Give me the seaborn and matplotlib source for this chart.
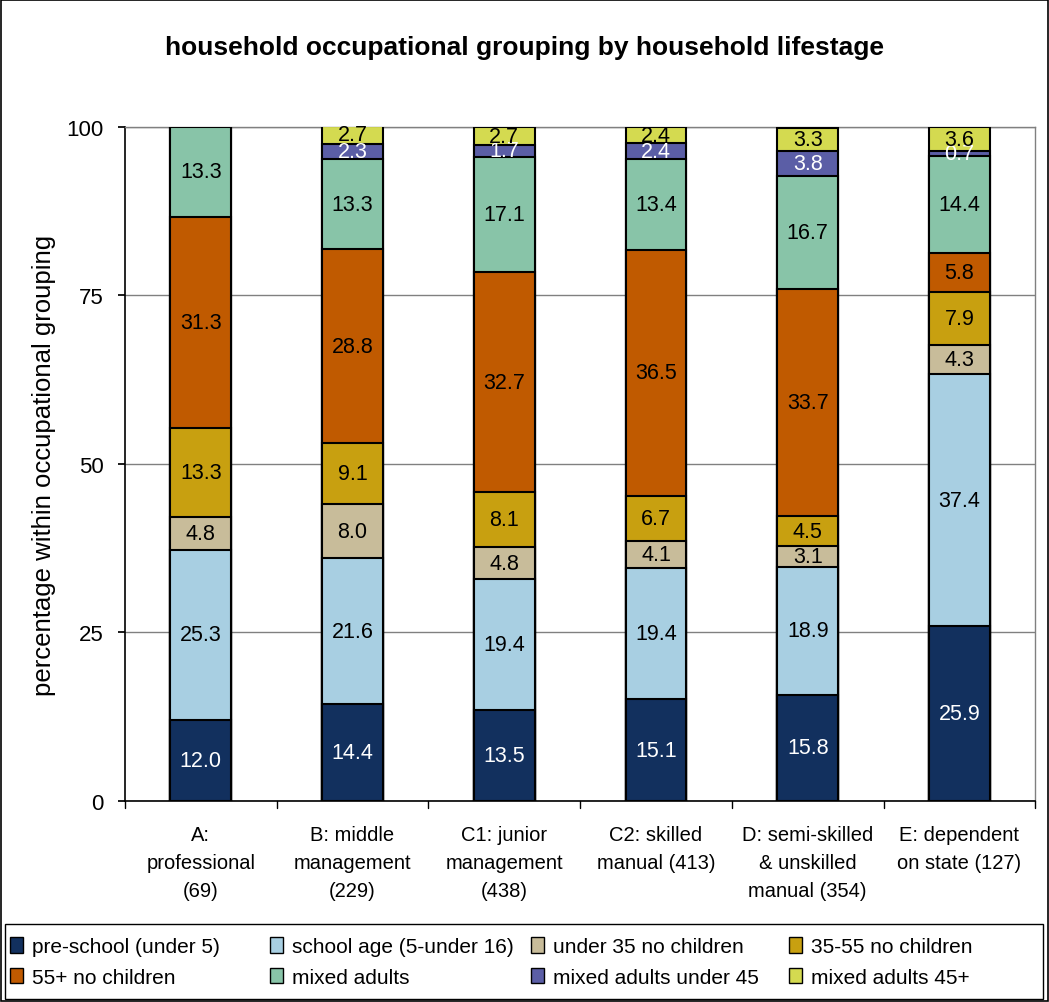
import matplotlib
matplotlib.use("Agg")
import matplotlib.pyplot as plt
import seaborn as sns
import numpy as np
import pandas as pd
from matplotlib.patches import Rectangle, Patch

categories = ["A:\nprofessional\n(69)", "B: middle\nmanagement\n(229)", "C1: junior\nmanagement\n(438)",
              "C2: skilled\nmanual (413)", "D: semi-skilled\n& unskilled\nmanual (354)", "E: dependent\non state (127)"]
series_names = ["pre-school (under 5)", "school age (5-under 16)", "under 35 no children", "35-55 no children",
                "55+ no children", "mixed adults", "mixed adults under 45", "mixed adults 45+"]
pre_school = [12.0, 14.4, 13.5, 15.1, 15.8, 25.9]
school_age = [25.3, 21.6, 19.4, 19.4, 18.9, 37.4]
under35 = [4.8, 8.0, 4.8, 4.1, 3.1, 4.3]
mid_no_children = [13.3, 9.1, 8.1, 6.7, 4.5, 7.9]
over55 = [31.3, 28.8, 32.7, 36.5, 33.7, 5.8]
mixed = [13.3, 13.3, 17.1, 13.4, 16.7, 14.4]
mixed_u45 = [0.0, 2.3, 1.7, 2.4, 3.8, 0.7]
mixed_45p = [0.0, 2.7, 2.7, 2.4, 3.3, 3.6]
yticks = [0, 25, 50, 75, 100]

series = [pre_school, school_age, under35, mid_no_children, over55, mixed, mixed_u45, mixed_45p]
colors = ["#12305E", "#A8CFE2", "#C8BC9A", "#C8A010", "#C05A00", "#88C4A8", "#5B5EA6", "#D4DA50"]
text_colors = ["white", "black", "black", "black", "black", "black", "white", "black"]

sns.set_theme(style="white")
plt.rcParams['font.family'] = ['Liberation Sans', 'DejaVu Sans']
plt.rcParams['text.color'] = 'black'
plt.rcParams['xtick.color'] = 'black'
plt.rcParams['ytick.color'] = 'black'
plt.rcParams['axes.labelcolor'] = 'black'

fig = plt.figure(figsize=(10.49, 10.03), dpi=100)
ax = fig.add_axes([0.119, 0.2004, 0.868, 0.672])

vals = np.array(series)
cum = np.cumsum(vals, axis=0)

for i in range(len(series) - 1, -1, -1):
    df = pd.DataFrame({"cat": categories, "val": cum[i]})
    sns.barplot(data=df, x="cat", y="val", order=categories, color=colors[i], saturation=1,
                width=0.4, edgecolor="black", linewidth=1.5, ax=ax, zorder=3)

for i in range(len(series)):
    for j in range(len(categories)):
        v = vals[i, j]
        if v <= 0:
            continue
        mid = cum[i, j] - v / 2
        ax.text(j, mid, f"{v:.1f}", ha="center", va="center", fontsize=15.5,
                color=text_colors[i], zorder=5)

ax.set_ylim(0, 100)
ax.set_xlim(-0.5, len(categories) - 0.5)
ax.set_yticks(yticks)
ax.set_yticklabels([str(t) for t in yticks], fontsize=16)
ax.yaxis.grid(True, color="#808080", linewidth=1, zorder=0)
ax.set_axisbelow(True)
ax.set_xlabel("")
ax.set_ylabel("percentage within occupational grouping", fontsize=18.5, labelpad=8)
ax.tick_params(axis="x", length=0, labelsize=14.5, pad=17)
ax.tick_params(axis="y", length=5, direction="out", left=True, color="black", pad=10)
ax.set_xticks(range(len(categories)))
ax.set_xticklabels(categories, fontsize=14.5, linespacing=1.62)
for b in np.arange(-0.5, len(categories), 1.0):
    ax.plot([b, b], [0, -1.0], color="black", lw=1, clip_on=False, zorder=4)

for s in ["top", "right"]:
    ax.spines[s].set_color("#808080")
    ax.spines[s].set_linewidth(1)
for s in ["left", "bottom"]:
    ax.spines[s].set_color("black")
    ax.spines[s].set_linewidth(1.2)

fig.text(0.5, 0.952, "household occupational grouping by household lifestage", ha="center", va="center",
         fontsize=19, fontweight="bold")

# legend: a framed box with four equal-width columns (two entries each), filled row-wise
fig.patches.append(Rectangle((5 / 1049, 1 - 1000 / 1003), 1038 / 1049, 75 / 1003, transform=fig.transFigure,
                             fill=False, edgecolor="black", linewidth=1, zorder=10))
col_x = [6, 266, 527, 785]
for c in range(4):
    idx = [c, c + 4]
    handles = [Patch(facecolor=colors[k], edgecolor="black", linewidth=1) for k in idx]
    labels = [series_names[k] for k in idx]
    leg = fig.legend(handles, labels, loc="upper left",
                     bbox_to_anchor=(col_x[c] / 1049, 1 - 934 / 1003), bbox_transform=fig.transFigure,
                     fontsize=15, frameon=False, handlelength=0.6, handleheight=0.75,
                     handletextpad=0.45, labelspacing=0.55, borderpad=0.2, borderaxespad=0)

fig.patches.append(Rectangle((0.001, 0.001), 0.998, 0.998, transform=fig.transFigure,
                             fill=False, edgecolor="black", linewidth=1.2))

fig.savefig("out.png", dpi=100, facecolor="white")
